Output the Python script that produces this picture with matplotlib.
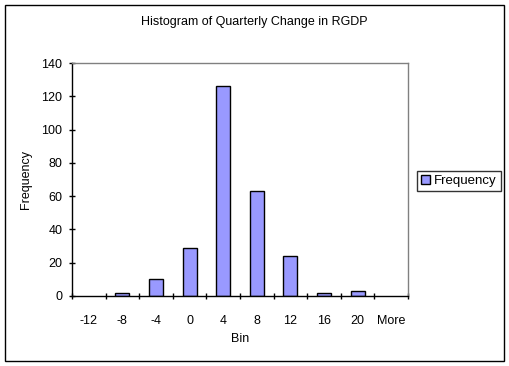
import matplotlib
matplotlib.use("Agg")
import matplotlib.pyplot as plt
from matplotlib.patches import Rectangle, Patch
import numpy as np

bins = ["-12", "-8", "-4", "0", "4", "8", "12", "16", "20", "More"]
frequency = [0, 2, 10, 29, 126, 63, 24, 2, 3, 0]
yticks = [0, 20, 40, 60, 80, 100, 120, 140]

plt.rcParams['font.family'] = ['Liberation Sans', 'DejaVu Sans']
fs = 9

fig = plt.figure(figsize=(5.09, 3.66), dpi=100)
fig.patches.append(Rectangle((5/509, 1-361/366), 499/509, 356/366, transform=fig.transFigure,
                             fill=False, edgecolor='black', linewidth=1.0))
ax = fig.add_axes([72/509, 1-296/366, 336/509, 233/366])
x = np.arange(len(bins))
edges = ['none' if v == 0 else 'black' for v in frequency]
ax.bar(x, frequency, width=0.42, color='#9999FF', edgecolor=edges, linewidth=1.0, label='Frequency')
ax.set_xlim(-0.5, len(bins) - 0.5)
ax.set_ylim(0, 140)
ax.set_yticks(yticks)
ax.set_yticklabels([str(v) for v in yticks], fontsize=fs)
ax.set_xticks(x)
ax.set_xticklabels(bins, fontsize=fs)
ax.tick_params(axis='x', which='major', length=0, pad=14)
ax.set_xticks(np.arange(-0.5, len(bins)), minor=True)
ax.tick_params(axis='x', which='minor', length=4, direction='inout', width=1)
ax.tick_params(axis='y', length=4, direction='inout', width=1, pad=5)
for s in ['top', 'right']:
    ax.spines[s].set_color('#808080')
    ax.spines[s].set_linewidth(1.0)
for s in ['left', 'bottom']:
    ax.spines[s].set_color('black')
    ax.spines[s].set_linewidth(1.0)
ax.set_xlabel('Bin', fontsize=fs, labelpad=4)
ax.set_ylabel('Frequency', fontsize=fs, labelpad=7)
fig.text(254/509, 1-22/366, 'Histogram of Quarterly Change in RGDP', ha='center', va='center', fontsize=fs)
handle = Patch(facecolor='#9999FF', edgecolor='black', linewidth=1.0)
leg = fig.legend([handle], ['Frequency'], loc='center left', bbox_to_anchor=(417/509, 1-181/366), fontsize=9.5,
                 frameon=True, fancybox=False, handlelength=0.7, handleheight=0.7,
                 handletextpad=0.3, borderpad=0.3, borderaxespad=0)
leg.get_frame().set_edgecolor('black')
leg.get_frame().set_linewidth(1.0)
fig.savefig('out.png', dpi=100)
